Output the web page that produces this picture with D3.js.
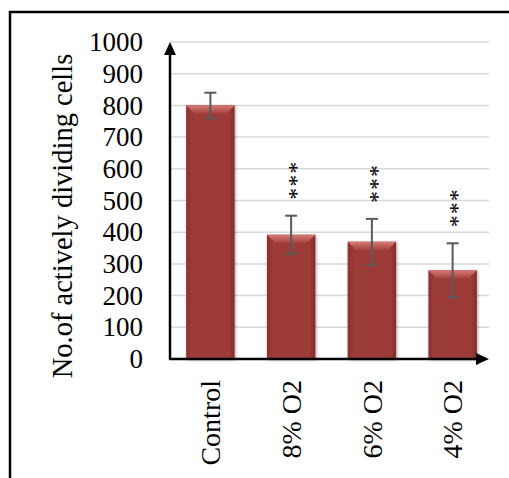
<!DOCTYPE html>
<html>
<head>
<meta charset="utf-8">
<script src="https://cdn.jsdelivr.net/npm/d3@7"></script>
<style>
  body { margin: 0; background: #fff; }
  svg text { font-family: "Liberation Serif", "DejaVu Serif", serif; }
</style>
</head>
<body>
<script>
var categories = ["Control", "8% O2", "6% O2", "4% O2"];
var values = [800, 392, 370, 280];
var errors = [40, 60, 72, 85];
var stars = ["", "***", "***", "***"];
var yTicks = [0, 100, 200, 300, 400, 500, 600, 700, 800, 900, 1000];
var yTitle = "No.of actively dividing cells";

var serif = "'Liberation Serif', 'DejaVu Serif', serif";
var W = 509, H = 478;
var margin = { top: 42, right: 16, bottom: 119, left: 170 };

var svg = d3.select("body").append("svg")
    .attr("width", W)
    .attr("height", H);

var defs = svg.append("defs");
var bodyGrad = defs.append("linearGradient").attr("id", "barBody")
    .attr("x1", "0").attr("x2", "1").attr("y1", "0").attr("y2", "0");
bodyGrad.append("stop").attr("offset", "0").attr("stop-color", "#8a302e");
bodyGrad.append("stop").attr("offset", "0.12").attr("stop-color", "#9c3b39");
bodyGrad.append("stop").attr("offset", "0.88").attr("stop-color", "#9c3b39");
bodyGrad.append("stop").attr("offset", "1").attr("stop-color", "#852d2b");
var topGrad = defs.append("linearGradient").attr("id", "barTop")
    .attr("x1", "0").attr("x2", "0").attr("y1", "0").attr("y2", "1");
topGrad.append("stop").attr("offset", "0").attr("stop-color", "#d67a76");
topGrad.append("stop").attr("offset", "1").attr("stop-color", "#a8433f");
var shadow = defs.append("filter").attr("id", "shadow")
    .attr("x", "-20%").attr("y", "-20%").attr("width", "140%").attr("height", "140%");
shadow.append("feDropShadow").attr("dx", 1).attr("dy", 1).attr("stdDeviation", 1.5)
    .attr("flood-color", "#000").attr("flood-opacity", 0.35);

// outer frame (top and left edges visible)
svg.append("path")
    .attr("d", "M10,478 L10,12 L509,12")
    .attr("fill", "none")
    .attr("stroke", "#000")
    .attr("stroke-width", 2.5);

var width = W - margin.left - margin.right,
    height = H - margin.top - margin.bottom;

var g = svg.append("g")
    .attr("transform", "translate(" + margin.left + "," + margin.top + ")");

var x = d3.scaleBand()
    .domain(categories)
    .range([0, 323])
    .paddingInner(0.4)
    .paddingOuter(0.2);

var y = d3.scaleLinear()
    .domain([0, 1000])
    .range([height, 0]);

// gridlines
g.selectAll(".grid")
    .data(yTicks.slice(1))
    .enter().append("line")
    .attr("class", "grid")
    .attr("x1", 0)
    .attr("x2", 319)
    .attr("y1", function (d) { return y(d); })
    .attr("y2", function (d) { return y(d); })
    .attr("stroke", "#d9d9d9")
    .attr("stroke-width", 1.5);

// y tick labels
var yAxis = d3.axisLeft(y).tickValues(yTicks).tickFormat(d3.format("d"))
    .tickSize(0).tickPadding(27);
var ya = g.append("g").call(yAxis)
    .attr("font-family", serif)
    .attr("font-size", 27);
ya.select(".domain").remove();
ya.selectAll("text")
    .attr("font-family", serif)
    .attr("fill", "#000");

// bars
var bars = g.selectAll(".bar")
    .data(values)
    .enter().append("g")
    .attr("class", "bar")
    .attr("filter", "url(#shadow)");

bars.append("rect")
    .attr("x", function (d, i) { return x(categories[i]); })
    .attr("y", function (d) { return y(d); })
    .attr("width", x.bandwidth())
    .attr("height", function (d) { return height - y(d); })
    .attr("fill", "url(#barBody)");

var bev = 8;
bars.append("path")
    .attr("d", function (d, i) {
        var x0 = x(categories[i]), x1 = x0 + x.bandwidth(), y0 = y(d);
        return "M" + x0 + "," + y0 + " L" + x1 + "," + y0 +
            " L" + (x1 - bev) + "," + (y0 + bev) + " L" + (x0 + bev) + "," + (y0 + bev) + "Z";
    })
    .attr("fill", "url(#barTop)");

// error bars
var eb = g.selectAll(".err")
    .data(values)
    .enter().append("g")
    .attr("class", "err")
    .attr("stroke", "#5a5a5a")
    .attr("stroke-width", 2);

eb.append("line")
    .attr("x1", function (d, i) { return x(categories[i]) + x.bandwidth() / 2; })
    .attr("x2", function (d, i) { return x(categories[i]) + x.bandwidth() / 2; })
    .attr("y1", function (d, i) { return y(d + errors[i]); })
    .attr("y2", function (d, i) { return y(d - errors[i]); });
[1, -1].forEach(function (s) {
    eb.append("line")
        .attr("x1", function (d, i) { return x(categories[i]) + x.bandwidth() / 2 - 6; })
        .attr("x2", function (d, i) { return x(categories[i]) + x.bandwidth() / 2 + 6; })
        .attr("y1", function (d, i) { return y(d + s * errors[i]); })
        .attr("y2", function (d, i) { return y(d + s * errors[i]); });
});

// significance stars, vertical text
g.selectAll(".star")
    .data(stars)
    .enter().append("text")
    .attr("class", "star")
    .attr("transform", function (d, i) {
        var cx = x(categories[i]) + x.bandwidth() / 2 - 1;
        var cy = y(values[i] + errors[i]) - 16;
        return "translate(" + cx + "," + cy + ") rotate(-90)";
    })
    .attr("dy", "0.57em")
    .attr("text-anchor", "start")
    .attr("font-family", "'DejaVu Sans', sans-serif")
    .attr("font-size", 24)
    .attr("letter-spacing", 1)
    .text(function (d) { return d; });

// x category labels
g.selectAll(".xlab")
    .data(categories)
    .enter().append("text")
    .attr("class", "xlab")
    .attr("transform", function (d) {
        return "translate(" + (x(d) + x.bandwidth() / 2) + "," + (height + 21) + ") rotate(-90)";
    })
    .attr("dy", "0.35em")
    .attr("text-anchor", "end")
    .attr("font-family", serif)
    .attr("font-size", 28)
    .text(function (d) { return d; });

// axes lines with arrows
var axisW = 2.5;
g.append("line")
    .attr("x1", 0).attr("x2", 0)
    .attr("y1", height).attr("y2", 10)
    .attr("stroke", "#000").attr("stroke-width", axisW);
g.append("path")
    .attr("d", "M0,0 L-6,13 L6,13 Z")
    .attr("fill", "#000");
g.append("line")
    .attr("x1", -1).attr("x2", 309)
    .attr("y1", height).attr("y2", height)
    .attr("stroke", "#000").attr("stroke-width", axisW);
g.append("path")
    .attr("d", "M319," + height + " L306," + (height - 6) + " L306," + (height + 6) + " Z")
    .attr("fill", "#000");

// y axis title
svg.append("text")
    .attr("transform", "translate(62,216) rotate(-90)")
    .attr("dy", "0.35em")
    .attr("text-anchor", "middle")
    .attr("font-family", serif)
    .attr("font-size", 28.5)
    .text(yTitle);
</script>
</body>
</html>
